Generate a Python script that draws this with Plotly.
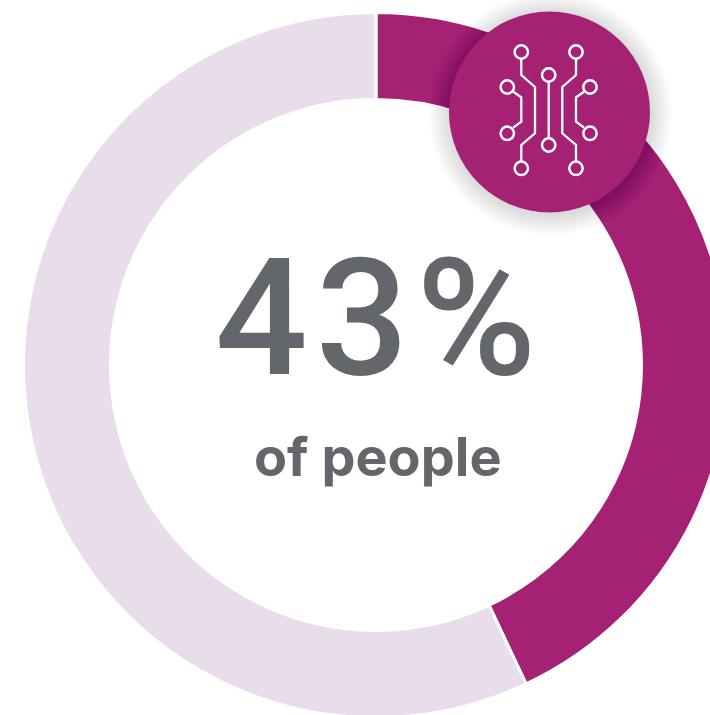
import plotly.graph_objects as go

# Donut data
segments = ["People", "Others"]
shares = [43, 57]
segment_colors = ["#A42174", "#E9DDEC"]
headline = "43%"
subtitle = "of people"

# Canvas is slightly larger than the visible window so the ring runs off the right edge
W, H = 800, 730
CX, CY, R_OUT, R_IN = 376, 365, 352.5, 265.5
BADGE_X, BADGE_Y, BADGE_R = 549.5, 112, 100.5
TEXT_COLOR = "#63666A"

# Circuit icon, in pixels relative to the canvas
icon_nodes = [(521.3, 52), (576, 52), (548.7, 75), (507.3, 87), (590, 87),
              (507.3, 133.3), (590, 133.3), (548.7, 145), (521.3, 168.3), (576, 168.3)]
icon_paths = [
    [(521.3, 59), (521.3, 75), (535, 87), (535, 133.3), (521.3, 145), (521.3, 161.3)],
    [(576, 59), (576, 75), (562.3, 87), (562.3, 133.3), (576, 145), (576, 161.3)],
    [(548.7, 82), (548.7, 138)],
    [(513.3, 91.7), (521.3, 97.3), (521.3, 121.7), (513.3, 127.7)],
    [(584, 91.7), (576, 97.3), (576, 121.7), (584, 127.7)],
]
NODE_R = 6.7


def px(x):
    return x / W


def py(y):
    return 1 - y / H


def circle(cx, cy, r, **kwargs):
    return dict(type="circle", xref="paper", yref="paper", layer="above",
                x0=px(cx - r), x1=px(cx + r), y0=py(cy + r), y1=py(cy - r), **kwargs)


fig = go.Figure(go.Pie(
    labels=segments,
    values=shares,
    hole=R_IN / R_OUT,
    sort=False,
    direction="clockwise",
    rotation=0,
    textinfo="none",
    hoverinfo="label+percent",
    showlegend=False,
    marker=dict(colors=segment_colors, line=dict(color="white", width=3)),
    domain=dict(x=[px(CX - R_OUT), px(CX + R_OUT)], y=[py(CY + R_OUT), py(CY - R_OUT)]),
))

shapes = []
# Soft drop shadow built from stacked translucent discs
for i in range(18, 0, -1):
    shapes.append(circle(BADGE_X + 1, BADGE_Y + 2, BADGE_R + i * 1.2,
                         fillcolor="rgba(0,0,0,0.009)", line=dict(width=0)))
shapes.append(circle(BADGE_X, BADGE_Y, BADGE_R, fillcolor=segment_colors[0], line=dict(width=0)))

# Icon strokes and nodes
for path in icon_paths:
    d = "M " + " L ".join(f"{px(x):.5f},{py(y):.5f}" for x, y in path)
    shapes.append(dict(type="path", xref="paper", yref="paper", layer="above", path=d,
                       line=dict(color="white", width=2.3)))
for x, y in icon_nodes:
    shapes.append(circle(x, y, NODE_R, line=dict(color="white", width=2.5)))

annotations = [
    dict(text=headline, x=px(379), y=py(319), xref="paper", yref="paper", showarrow=False,
         xanchor="center", yanchor="middle",
         font=dict(family="Roboto", size=163, color=TEXT_COLOR, weight=500)),
    dict(text=subtitle, x=px(378), y=py(456), xref="paper", yref="paper", showarrow=False,
         xanchor="center", yanchor="middle",
         font=dict(family="Inter", size=54, color=TEXT_COLOR, weight=700)),
]

fig.update_layout(
    width=W, height=H,
    margin=dict(l=0, r=0, t=0, b=0),
    paper_bgcolor="white",
    shapes=shapes,
    annotations=annotations,
)

# Hide the overflow of the wider canvas and open up the headline's tracking
page_script = (
    "document.documentElement.style.overflow='hidden';"
    "document.body.style.overflow='hidden';"
    "document.body.style.margin='0';"
    "document.querySelectorAll('.annotation-text')[0].style.letterSpacing='8px';"
)
fig.write_html("out.html", post_script=page_script)
